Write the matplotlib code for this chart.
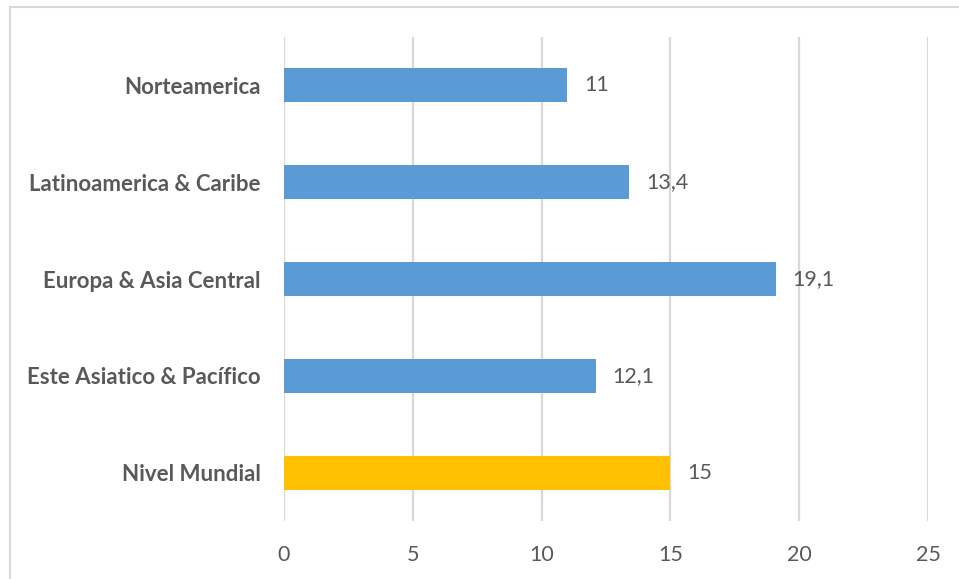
import numpy as np
import matplotlib
matplotlib.use("Agg")
import matplotlib.pyplot as plt
from matplotlib.lines import Line2D

# data
regions = ["Norteamerica", "Latinoamerica & Caribe", "Europa & Asia Central",
           "Este Asiatico & Pacífico", "Nivel Mundial"]
values = [11, 13.4, 19.1, 12.1, 15]
value_labels = ["11", "13,4", "19,1", "12,1", "15"]
bar_colors = ["#5B9BD5", "#5B9BD5", "#5B9BD5", "#5B9BD5", "#FFC000"]
xticks = [0, 5, 10, 15, 20, 25]

plt.rcParams["font.family"] = ["Lato", "DejaVu Sans"]
text_gray = "#595959"

W, H = 959, 579
fig = plt.figure(figsize=(W / 100, H / 100), dpi=100)
ax = fig.add_axes([284 / W, 1 - 521 / H, (928 - 284) / W, (521 - 37) / H])

ypos = np.arange(len(regions))
ax.barh(ypos, values, height=0.35, color=bar_colors, zorder=3)
ax.set_ylim(len(regions) - 0.5, -0.5)
ax.set_xlim(0, 25)

for y, v, lab in zip(ypos, values, value_labels):
    ax.annotate(lab, (v, y), xytext=(12, 0), textcoords="offset points",
                ha="left", va="center", fontsize=15.5, color=text_gray)

ax.set_xticks(xticks)
ax.set_xticklabels([str(t) for t in xticks], fontsize=15.5, color=text_gray)
ax.set_yticks(ypos)
ax.set_yticklabels(regions, fontsize=16, fontweight="bold", color=text_gray)
ax.tick_params(axis="both", length=0)
ax.tick_params(axis="x", pad=17)
ax.tick_params(axis="y", pad=17)

ax.grid(axis="x", color="#D9D9D9", linewidth=1.6, zorder=0)
for s in ax.spines.values():
    s.set_visible(False)

# outer chart border (left and top visible)
fig.add_artist(Line2D([10 / W, 1], [1 - 7 / H, 1 - 7 / H], transform=fig.transFigure,
                      color="#D9D9D9", linewidth=1.5))
fig.add_artist(Line2D([10 / W, 10 / W], [0, 1 - 7 / H], transform=fig.transFigure,
                      color="#D9D9D9", linewidth=1.5))

fig.savefig("out.png", dpi=100)
